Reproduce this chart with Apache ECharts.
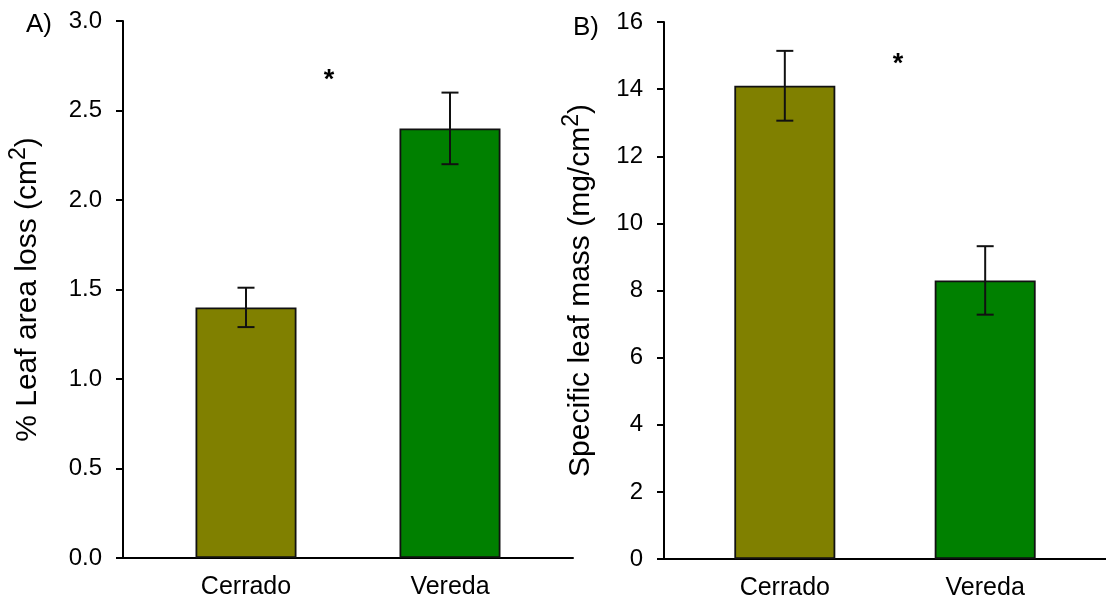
<!DOCTYPE html>
<html>
<head>
<meta charset="utf-8">
<script src="https://cdn.jsdelivr.net/npm/echarts@6/dist/echarts.min.js"></script>
<style>
  html, body { margin: 0; padding: 0; background: #fff; }
  #chart { width: 1106px; height: 601px; }
</style>
</head>
<body>
<div id="chart"></div>
<script>
// Sites compared in both panels
const categories = ['Cerrado', 'Vereda'];

// Panel A: % leaf area loss (cm2), mean and standard error
const leafLoss = [1.4, 2.4];
const leafLossErr = [0.11, 0.2];

// Panel B: specific leaf mass (mg/cm2), mean and standard error
const leafMass = [14.1, 8.3];
const leafMassErr = [1.04, 1.02];

// Axis tick values
const ticksA = [0, 0.5, 1.0, 1.5, 2.0, 2.5, 3.0];
const ticksB = [0, 2, 4, 6, 8, 10, 12, 14, 16];

const barColors = ['#808000', '#008000'];
const FONT = 'Liberation Sans, Arial, sans-serif';

const chart = echarts.init(document.getElementById('chart'), null, { renderer: 'canvas' });

function xAxisFor(gridIndex) {
  return {
    type: 'value',
    gridIndex,
    min: -0.603,
    max: 1.603,
    axisLine: { show: true, onZero: false, lineStyle: { color: '#000', width: 2 } },
    axisTick: { show: false },
    splitLine: { show: false },
    axisLabel: {
      customValues: categories.map((_, i) => i),
      formatter: v => categories[Math.round(v)] || '',
      color: '#000',
      fontFamily: FONT,
      fontSize: 25,
      margin: 17
    }
  };
}

function yAxisFor(gridIndex, ticks, interval, digits, nameRich, nameGap) {
  return {
    type: 'value',
    gridIndex,
    min: ticks[0],
    max: ticks[ticks.length - 1],
    interval,
    name: nameRich,
    nameLocation: 'middle',
    nameRotate: 90,
    nameGap,
    nameTextStyle: {
      color: '#000',
      fontFamily: FONT,
      fontSize: 30,
      rich: {
        n: { fontFamily: FONT, fontSize: 30, lineHeight: 36, color: '#000', verticalAlign: 'bottom' },
        sup: { fontFamily: FONT, fontSize: 23, lineHeight: 24, color: '#000', verticalAlign: 'top' }
      }
    },
    axisLine: { show: true, onZero: false, lineStyle: { color: '#000', width: 2 } },
    axisTick: { show: true, inside: false, length: 7, lineStyle: { color: '#000', width: 2 } },
    splitLine: { show: false },
    axisLabel: {
      formatter: v => v.toFixed(digits),
      color: '#000',
      fontFamily: FONT,
      fontSize: 24,
      margin: 21
    }
  };
}

function barSeries(axisIndex, values) {
  return {
    type: 'bar',
    xAxisIndex: axisIndex,
    yAxisIndex: axisIndex,
    barWidth: 101,
    data: values.map((v, i) => ({
      value: [i, v],
      itemStyle: { color: barColors[i], borderColor: '#111', borderWidth: 1.8 }
    })),
    z: 2
  };
}

function errorSeries(axisIndex, values, errs) {
  return {
    type: 'custom',
    xAxisIndex: axisIndex,
    yAxisIndex: axisIndex,
    data: values.map((v, i) => [i, v - errs[i], v + errs[i]]),
    z: 5,
    renderItem(params, api) {
      const x = api.value(0);
      const lo = api.coord([x, api.value(1)]);
      const hi = api.coord([x, api.value(2)]);
      const half = 8.5;
      const style = { stroke: '#111', lineWidth: 2 };
      return {
        type: 'group',
        children: [
          { type: 'line', shape: { x1: hi[0], y1: hi[1], x2: lo[0], y2: lo[1] }, style },
          { type: 'line', shape: { x1: hi[0] - half, y1: hi[1], x2: hi[0] + half, y2: hi[1] }, style },
          { type: 'line', shape: { x1: lo[0] - half, y1: lo[1], x2: lo[0] + half, y2: lo[1] }, style }
        ]
      };
    }
  };
}

const option = {
  backgroundColor: '#fff',
  animation: false,
  grid: [
    { left: 123, top: 21, width: 450, height: 537 },
    { left: 664, top: 22, width: 450.5, height: 537 }
  ],
  xAxis: [xAxisFor(0), xAxisFor(1)],
  yAxis: [
    yAxisFor(0, ticksA, 0.5, 1, '{n|% Leaf area loss (cm}{sup|2}{n|)}', 80),
    yAxisFor(1, ticksB, 2, 0, '{n|Specific leaf mass (mg/cm}{sup|2}{n|)}', 68)
  ],
  series: [
    barSeries(0, leafLoss),
    errorSeries(0, leafLoss, leafLossErr),
    barSeries(1, leafMass),
    errorSeries(1, leafMass, leafMassErr)
  ],
  graphic: [
    { type: 'text', left: 26, top: 12, style: { text: 'A)', fontFamily: FONT, fontSize: 26, fill: '#000' } },
    { type: 'text', left: 573, top: 15, style: { text: 'B)', fontFamily: FONT, fontSize: 26, fill: '#000' } },
    { type: 'text', x: 329, y: 81, style: { text: '*', fontFamily: FONT, fontSize: 27, fontWeight: 'bold', fill: '#000', align: 'center', verticalAlign: 'middle' } },
    { type: 'text', x: 898, y: 65, style: { text: '*', fontFamily: FONT, fontSize: 27, fontWeight: 'bold', fill: '#000', align: 'center', verticalAlign: 'middle' } }
  ]
};

chart.setOption(option);
</script>
</body>
</html>
